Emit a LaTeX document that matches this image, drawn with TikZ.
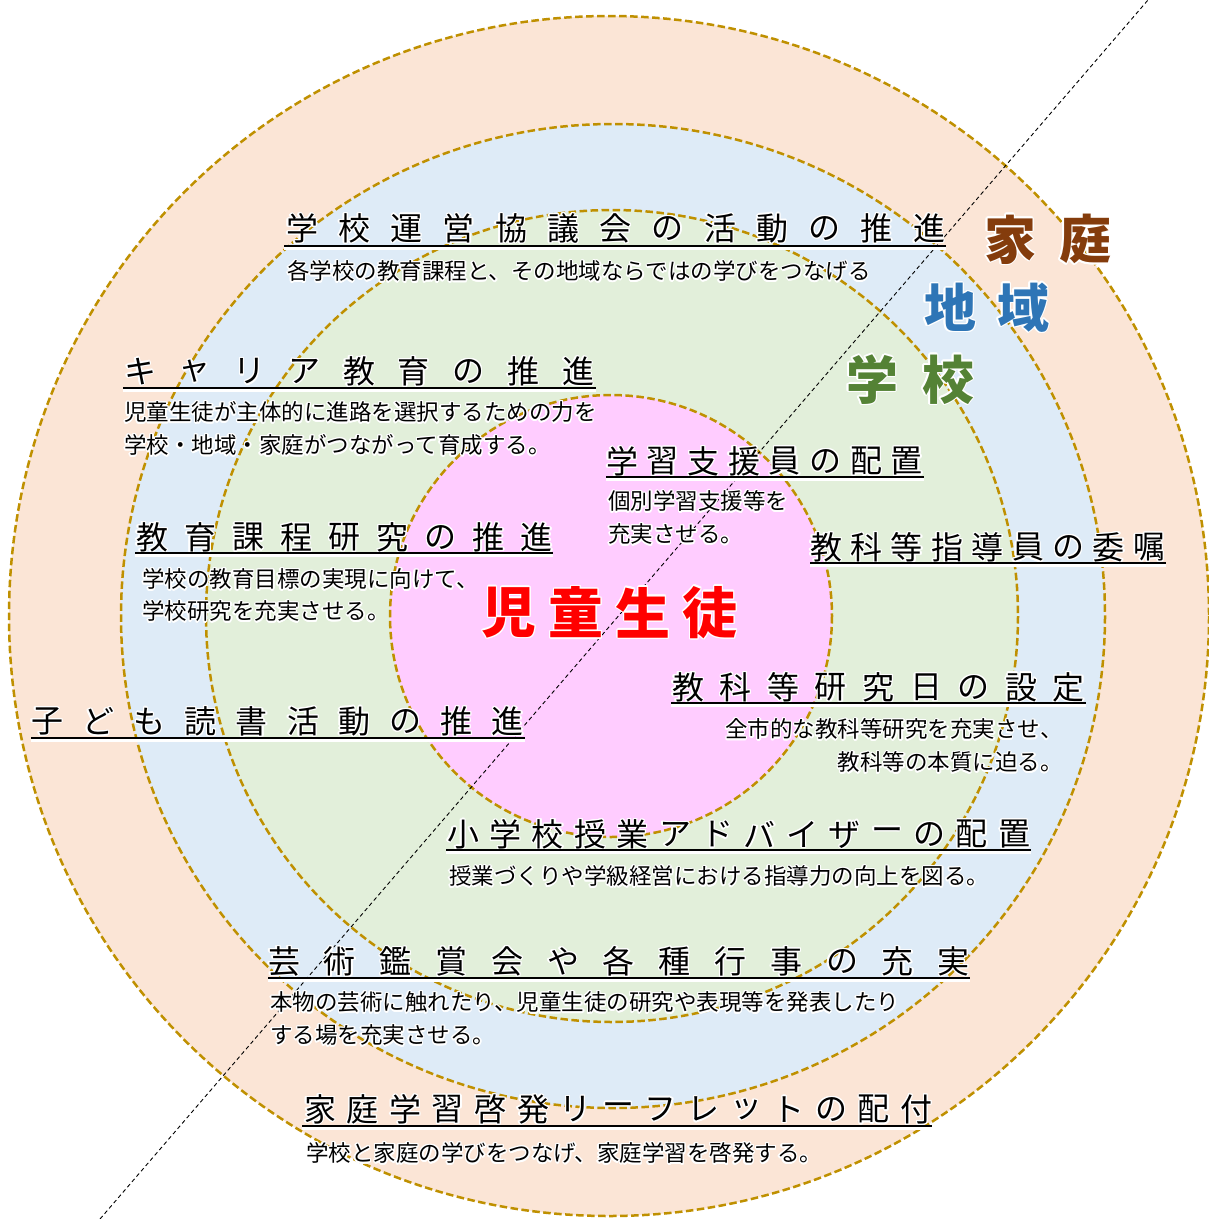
\documentclass[tikz,border=0pt]{standalone}
\usepackage{fontspec}
\newfontfamily\jp{Noto Sans CJK JP}
\usepackage{contour}
\contourlength{1.3pt}
\contournumber{16}
\definecolor{peach}{HTML}{FBE5D6}
\definecolor{skyb}{HTML}{DEEBF7}
\definecolor{mint}{HTML}{E2EFDA}
\definecolor{rosa}{HTML}{FFCCFF}
\definecolor{ringc}{HTML}{BF9000}
\definecolor{kbrown}{HTML}{843C0C}
\definecolor{kblue}{HTML}{2E75B6}
\definecolor{kgreen}{HTML}{548235}
\tikzset{
  ring/.style={draw=ringc, line width=2.5pt, dash pattern=on 7.5pt off 3.5pt},
  ttl/.style={inner sep=0pt, font=\jp\fontsize{32}{32}\selectfont},
  sub/.style={inner sep=0pt, font=\jp\fontsize{22.5}{27}\selectfont, anchor=west},
  subr/.style={sub, anchor=east},
  big/.style={inner sep=0pt, font=\jp\bfseries\fontsize{52}{52}\selectfont},
  uline/.style={line width=2.5pt, black},
  diag/.style={line width=0.9pt, black, dash pattern=on 4pt off 3pt}
}
% #1 name, #2 first centre x, #3 spacing, #4 centre y, #5 underline y, #6 ul left, #7 ul right, #8 chars
\newcommand\sptitle[8]{%
  \foreach \ch [count=\i] in {#8} {\node[ttl] (#1-\i) at ({#2+(\i-1)*#3},#4) {\contour{white}{\ch}};}
  \coordinate (#1-a) at (#6,#5);
  \coordinate (#1-b) at (#7,#5);
  \draw[white, line width=5pt] ([yshift=-1pt]#1-a) -- ([yshift=-1pt]#1-b);
  \draw[uline] (#1-a) -- (#1-b);
}
\begin{document}
\begin{tikzpicture}[x=1pt,y=-1pt]
\useasboundingbox (0,0) rectangle (1209,1219);
\fill[white] (0,0) rectangle (1209,1219);
% rings
\path[fill=peach, ring] (609,616) circle (600);
\path[fill=skyb, ring] (613,616) circle (492);
\path[fill=mint, ring] (612,616) circle (406);
\path[fill=rosa, ring] (611,616) circle (221);
% diagonal
\coordinate (d1) at (100,1219);
\coordinate (d2) at (1148,0);
\draw[diag] (d1) -- (d2);
% big labels
\node[big, text=kbrown] (ka) at (1010,240) {\contour{white}{家}};
\node[big, text=kbrown] (kb) at (1085,240) {\contour{white}{庭}};
\node[big, text=kblue] (ca) at (950,308) {\contour{white}{地}};
\node[big, text=kblue] (cb) at (1023,308) {\contour{white}{域}};
\node[big, text=kgreen] (ga) at (872,380) {\contour{white}{学}};
\node[big, text=kgreen] (gb) at (948,380) {\contour{white}{校}};
\foreach \ch [count=\i] in {児,童,生,徒}
  \node[big, text=red, font=\jp\bfseries\fontsize{55}{55}\selectfont] (st-\i) at ({509+(\i-1)*67},613) {\contour{white}{\ch}};
% titles
\sptitle{t1}{302}{52.25}{229}{246}{284}{946}{学,校,運,営,協,議,会,の,活,動,の,推,進}
\sptitle{t2}{140}{54.75}{372}{388}{123}{596}{キ,ャ,リ,ア,教,育,の,推,進}
\sptitle{t3}{622}{40.7}{462}{477}{606}{924}{学,習,支,援,員,の,配,置}
\sptitle{t4}{826}{40.4}{548}{563}{810}{1166}{教,科,等,指,導,員,の,委,嘱}
\sptitle{t5}{152}{48.1}{538}{553}{135}{553}{教,育,課,程,研,究,の,推,進}
\sptitle{t6}{47}{51.2}{722}{738}{31}{525}{子,ど,も,読,書,活,動,の,推,進}
\sptitle{t7}{688}{47.6}{688}{703}{671}{1086}{教,科,等,研,究,日,の,設,定}
\sptitle{t8}{463}{42.4}{835}{850}{446}{1031}{小,学,校,授,業,ア,ド,バ,イ,ザ,ー,の,配,置}
\sptitle{t9}{284}{55.8}{962}{978}{268}{970}{芸,術,鑑,賞,会,や,各,種,行,事,の,充,実}
\sptitle{t10}{320}{42.6}{1110}{1126}{302}{932}{家,庭,学,習,啓,発,リ,ー,フ,レ,ッ,ト,の,配,付}
% sub texts
\node[sub] (s1) at (287,272) {\contour{white}{各学校の教育課程と、その地域ならではの学びをつなげる}};
\node[sub] (s2a) at (124,413) {\contour{white}{児童生徒が主体的に進路を選択するための力を}};
\node[sub] (s2b) at (124,446) {\contour{white}{学校・地域・家庭がつながって育成する。}};
\node[sub] (s3a) at (608,502) {\contour{white}{個別学習支援等を}};
\node[sub] (s3b) at (608,535) {\contour{white}{充実させる。}};
\node[sub] (s5a) at (142,580) {\contour{white}{学校の教育目標の実現に向けて、}};
\node[sub] (s5b) at (142,612) {\contour{white}{学校研究を充実させる。}};
\node[subr] (s7a) at (1063,730) {\contour{white}{全市的な教科等研究を充実させ、}};
\node[subr] (s7b) at (1063,763) {\contour{white}{教科等の本質に迫る。}};
\node[sub] (s8) at (449,877) {\contour{white}{授業づくりや学級経営における指導力の向上を図る。}};
\node[sub] (s9a) at (270,1003) {\contour{white}{本物の芸術に触れたり、児童生徒の研究や表現等を発表したり}};
\node[sub] (s9b) at (270,1036) {\contour{white}{する場を充実させる。}};
\node[sub] (s10) at (306,1154) {\contour{white}{学校と家庭の学びをつなげ、家庭学習を啓発する。}};
\end{tikzpicture}
\end{document}
